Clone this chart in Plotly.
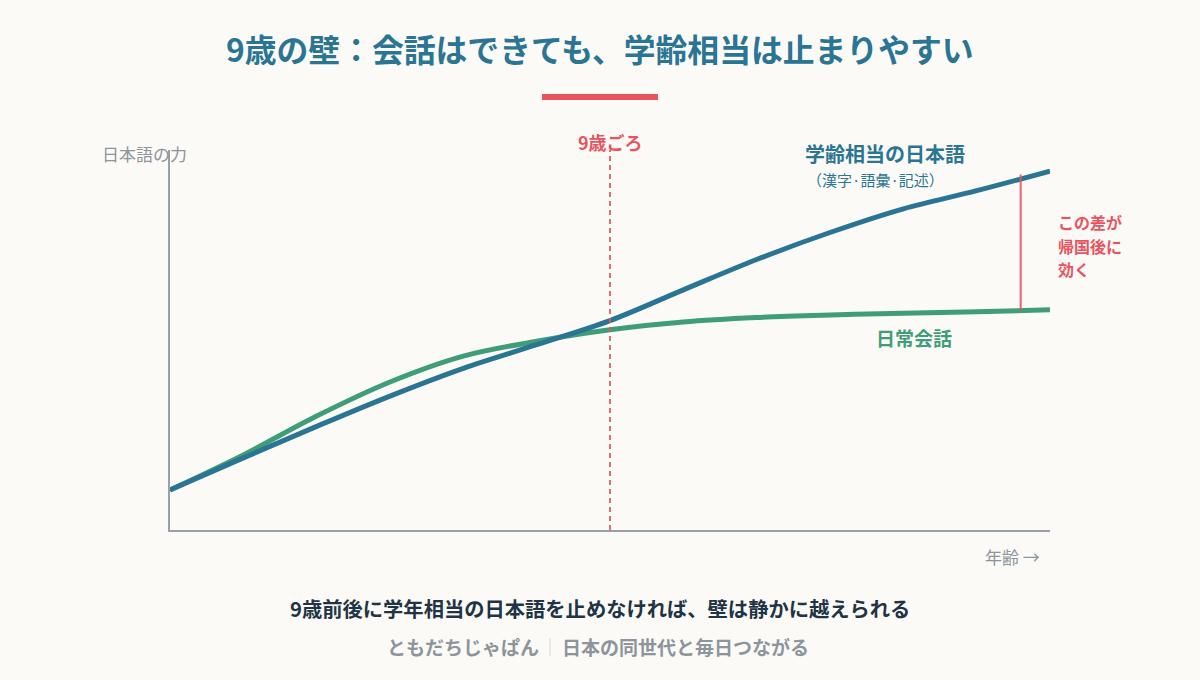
import numpy as np
import plotly.graph_objects as go

# ---- data ----
ages = [3, 4, 5, 6, 7, 8, 9, 10, 11, 12, 13, 14, 15]
academic = [10.8, 19.5, 28.0, 36.2, 43.7, 50.1, 56.6, 64.9, 73.1, 80.4, 86.8, 91.7, 97.0]
conversation = [10.8, 20.3, 30.8, 40.0, 47.0, 51.0, 54.1, 56.2, 57.4, 58.1, 58.6, 59.0, 59.5]
marker_age = 9
gap_age = 14.6

title_text = "9歳の壁：会話はできても、学齢相当は止まりやすい"
academic_label = "学齢相当の日本語"
academic_sub = "（漢字·語彙·記述）"
conv_label = "日常会話"
marker_label = "9歳ごろ"
gap_lines = ["この差が", "帰国後に", "効く"]
y_label = "日本語の力"
x_label = "年齢 →"
footer_main = "9歳前後に学年相当の日本語を止めなければ、壁は静かに越えられる"
footer_left = "ともだちじゃぱん"
footer_right = "日本の同世代と毎日つながる"

# ---- style ----
BG = "#fbfaf7"
BLUE = "#2b7594"
GREEN = "#3f9e79"
RED = "#e8535e"
GRAY = "#9aa0a8"
TXTGRAY = "#8e949b"
DARK = "#1f3444"
FONT = "Noto Sans CJK JP"

W, H = 1200, 680
L, R, T, B = 170, 150, 150, 150
YMAX = 102.7


def px(x):
    return (x - L) / (W - L - R)


def py(y):
    return (H - B - y) / (H - T - B)


fig = go.Figure()
fig.add_trace(go.Scatter(x=ages, y=conversation, mode="lines",
                         line=dict(color=GREEN, width=5, shape="spline"),
                         hoverinfo="skip", showlegend=False))
fig.add_trace(go.Scatter(x=ages, y=academic, mode="lines",
                         line=dict(color=BLUE, width=5, shape="spline"),
                         hoverinfo="skip", showlegend=False))

gap_lo = float(np.interp(gap_age, ages, conversation))
gap_hi = float(np.interp(gap_age, ages, academic))

shapes = [
    dict(type="line", xref="x", yref="y", x0=marker_age, x1=marker_age, y0=0, y1=YMAX,
         line=dict(color=RED, width=2, dash="5px,4px"), opacity=0.85),
    dict(type="line", xref="x", yref="y", x0=gap_age, x1=gap_age, y0=gap_lo, y1=gap_hi + 1.2,
         line=dict(color=RED, width=2), opacity=0.9),
    dict(type="line", xref="paper", yref="paper", x0=px(542), x1=px(658), y0=py(97), y1=py(97),
         line=dict(color=RED, width=6)),
    dict(type="line", xref="paper", yref="paper", x0=px(550), x1=px(550), y0=py(638), y1=py(656),
         line=dict(color="#d6d8db", width=1)),
]

ann = []


def add(text, x, y, size, color, bold=False, xanchor="center", align="center"):
    ann.append(dict(text=f"<b>{text}</b>" if bold else text, x=px(x), y=py(y),
                    xref="paper", yref="paper", showarrow=False,
                    xanchor=xanchor, yanchor="middle", align=align,
                    font=dict(family=FONT, size=size, color=color)))


add(title_text, 600, 48, 31.8, BLUE, bold=True)
add(marker_label, 610, 142, 18, RED, bold=True)
add(academic_label, 885, 153, 20, BLUE, bold=True)
add(academic_sub, 875, 179, 15, BLUE)
add(conv_label, 914, 337, 19, GREEN, bold=True)
for i, line in enumerate(gap_lines):
    add(line, 1056, 222 + 23.5 * i, 16, RED, bold=True, xanchor="left", align="left")
add(y_label, 100, 153, 17, TXTGRAY, xanchor="left")
add(x_label, 1042, 556, 17, TXTGRAY, xanchor="right")
add(footer_main, 600, 608, 20.3, DARK, bold=True)
add(footer_left, 541, 646, 19, TXTGRAY, bold=True, xanchor="right")
add(footer_right, 560, 646, 19, TXTGRAY, bold=True, xanchor="left")

fig.update_layout(
    width=W, height=H,
    margin=dict(l=L, r=R, t=T, b=B),
    paper_bgcolor=BG, plot_bgcolor=BG,
    shapes=shapes, annotations=ann,
    xaxis=dict(range=[3, 15], showline=True, linecolor=GRAY, linewidth=2,
               showgrid=False, zeroline=False, showticklabels=False, ticks=""),
    yaxis=dict(range=[0, YMAX], showline=True, linecolor=GRAY, linewidth=2,
               showgrid=False, zeroline=False, showticklabels=False, ticks=""),
    font=dict(family=FONT),
)

fig.write_html("out.html", config={"displayModeBar": False})
